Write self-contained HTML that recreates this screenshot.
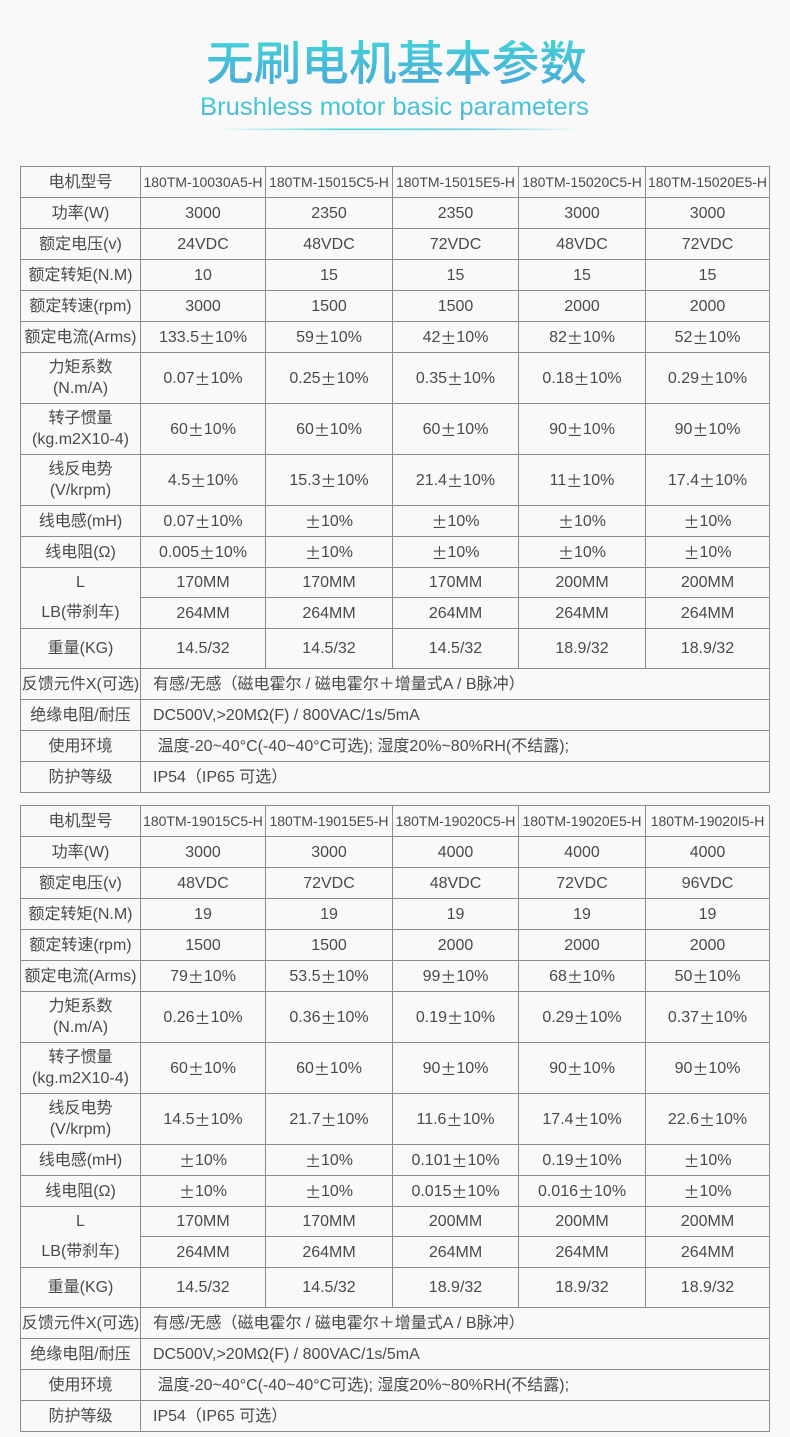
<!DOCTYPE html>
<html>
<head>
<meta charset="utf-8">
<style>
html,body{margin:0;padding:0;}
body{width:790px;height:1437px;background:#f9f9f9;position:relative;overflow:hidden;
font-family:"Liberation Sans","Noto Sans CJK SC",sans-serif;color:#4a4a4a;}
.t{position:absolute;left:20px;width:750px;height:627px;display:grid;box-sizing:border-box;
padding:1px;gap:1px;background:#8c8c8c;
grid-template-columns:119px 124px 126px 125px 126px 123px;
grid-template-rows:30px 30px 30px 30px 30px 30px 50px 50px 50px 30px 30px 29px 30px 39px 30px 30px 30px 30px;}
.t>div{background:#f9f9f9;display:flex;align-items:center;justify-content:center;text-align:center;
font-size:16px;white-space:nowrap;line-height:21px;}
.t>div.m{font-size:14px;}
.t>div.w{grid-column:2 / span 5;justify-content:flex-start;padding-left:12px;}
.t>div.s{grid-row:span 2;flex-direction:column;justify-content:flex-start;}
.t>div.s span{display:block;height:30px;line-height:30px;}
.c{font-family:"Noto Sans CJK SC",sans-serif;}
</style>
</head>
<body>
<svg width="790" height="160" style="position:absolute;left:0;top:0" xmlns="http://www.w3.org/2000/svg">
<defs>
<linearGradient id="g1" x1="0" y1="0" x2="0" y2="1">
<stop offset="0" stop-color="#42dcd8"/>
<stop offset="1" stop-color="#4aa4d8"/>
</linearGradient>
<linearGradient id="g2" x1="0" y1="0" x2="0" y2="1">
<stop offset="0" stop-color="#43d6d8"/>
<stop offset="1" stop-color="#4ab0d8"/>
</linearGradient>
<linearGradient id="g3" x1="0" y1="0" x2="1" y2="0">
<stop offset="0" stop-color="#4dd6d8" stop-opacity="0"/>
<stop offset="0.35" stop-color="#4dd6d8" stop-opacity="1"/>
<stop offset="0.7" stop-color="#4dc8d8" stop-opacity="0.8"/>
<stop offset="1" stop-color="#4dc8d8" stop-opacity="0"/>
</linearGradient>
</defs>
<text x="206" y="80" font-size="47" font-weight="500" fill="url(#g1)" textLength="381" lengthAdjust="spacingAndGlyphs" style="font-family:'Noto Sans CJK SC',sans-serif">无刷电机基本参数</text>
<text x="200" y="115" font-size="25" fill="url(#g2)" textLength="389" lengthAdjust="spacingAndGlyphs" style="font-family:'Liberation Sans','Noto Sans CJK SC',sans-serif">Brushless motor basic parameters</text>
<rect x="214" y="128.5" width="368" height="1.6" fill="url(#g3)"/>
</svg>

<div class="t" style="top:166px">
<div>电机型号</div><div class="m">180TM-10030A5-H</div><div class="m">180TM-15015C5-H</div><div class="m">180TM-15015E5-H</div><div class="m">180TM-15020C5-H</div><div class="m">180TM-15020E5-H</div>
<div>功率(W)</div><div>3000</div><div>2350</div><div>2350</div><div>3000</div><div>3000</div>
<div>额定电压(v)</div><div>24VDC</div><div>48VDC</div><div>72VDC</div><div>48VDC</div><div>72VDC</div>
<div>额定转矩(N.M)</div><div>10</div><div>15</div><div>15</div><div>15</div><div>15</div>
<div>额定转速(rpm)</div><div>3000</div><div>1500</div><div>1500</div><div>2000</div><div>2000</div>
<div>额定电流(Arms)</div><div>133.5<span class="c">±</span>10%</div><div>59<span class="c">±</span>10%</div><div>42<span class="c">±</span>10%</div><div>82<span class="c">±</span>10%</div><div>52<span class="c">±</span>10%</div>
<div>力矩系数<br>(N.m/A)</div><div>0.07<span class="c">±</span>10%</div><div>0.25<span class="c">±</span>10%</div><div>0.35<span class="c">±</span>10%</div><div>0.18<span class="c">±</span>10%</div><div>0.29<span class="c">±</span>10%</div>
<div>转子惯量<br>(kg.m2X10-4)</div><div>60<span class="c">±</span>10%</div><div>60<span class="c">±</span>10%</div><div>60<span class="c">±</span>10%</div><div>90<span class="c">±</span>10%</div><div>90<span class="c">±</span>10%</div>
<div>线反电势<br>(V/krpm)</div><div>4.5<span class="c">±</span>10%</div><div>15.3<span class="c">±</span>10%</div><div>21.4<span class="c">±</span>10%</div><div>11<span class="c">±</span>10%</div><div>17.4<span class="c">±</span>10%</div>
<div>线电感(mH)</div><div>0.07<span class="c">±</span>10%</div><div><span class="c">±</span>10%</div><div><span class="c">±</span>10%</div><div><span class="c">±</span>10%</div><div><span class="c">±</span>10%</div>
<div>线电阻(Ω)</div><div>0.005<span class="c">±</span>10%</div><div><span class="c">±</span>10%</div><div><span class="c">±</span>10%</div><div><span class="c">±</span>10%</div><div><span class="c">±</span>10%</div>
<div class="s"><span>L</span><span>LB(带刹车)</span></div><div>170MM</div><div>170MM</div><div>170MM</div><div>200MM</div><div>200MM</div>
<div>264MM</div><div>264MM</div><div>264MM</div><div>264MM</div><div>264MM</div>
<div>重量(KG)</div><div>14.5/32</div><div>14.5/32</div><div>14.5/32</div><div>18.9/32</div><div>18.9/32</div>
<div>反馈元件X(可选)</div><div class="w">有感/无感（磁电霍尔 / 磁电霍尔＋增量式A / B脉冲）</div>
<div>绝缘电阻/耐压</div><div class="w">DC500V,&gt;20MΩ(F) / 800VAC/1s/5mA</div>
<div>使用环境</div><div class="w">&nbsp;温度-20~40°C(-40~40°C可选); 湿度20%~80%RH(不结露);</div>
<div>防护等级</div><div class="w">IP54（IP65 可选）</div>
</div>

<div class="t" style="top:805px">
<div>电机型号</div><div class="m">180TM-19015C5-H</div><div class="m">180TM-19015E5-H</div><div class="m">180TM-19020C5-H</div><div class="m">180TM-19020E5-H</div><div class="m">180TM-19020I5-H</div>
<div>功率(W)</div><div>3000</div><div>3000</div><div>4000</div><div>4000</div><div>4000</div>
<div>额定电压(v)</div><div>48VDC</div><div>72VDC</div><div>48VDC</div><div>72VDC</div><div>96VDC</div>
<div>额定转矩(N.M)</div><div>19</div><div>19</div><div>19</div><div>19</div><div>19</div>
<div>额定转速(rpm)</div><div>1500</div><div>1500</div><div>2000</div><div>2000</div><div>2000</div>
<div>额定电流(Arms)</div><div>79<span class="c">±</span>10%</div><div>53.5<span class="c">±</span>10%</div><div>99<span class="c">±</span>10%</div><div>68<span class="c">±</span>10%</div><div>50<span class="c">±</span>10%</div>
<div>力矩系数<br>(N.m/A)</div><div>0.26<span class="c">±</span>10%</div><div>0.36<span class="c">±</span>10%</div><div>0.19<span class="c">±</span>10%</div><div>0.29<span class="c">±</span>10%</div><div>0.37<span class="c">±</span>10%</div>
<div>转子惯量<br>(kg.m2X10-4)</div><div>60<span class="c">±</span>10%</div><div>60<span class="c">±</span>10%</div><div>90<span class="c">±</span>10%</div><div>90<span class="c">±</span>10%</div><div>90<span class="c">±</span>10%</div>
<div>线反电势<br>(V/krpm)</div><div>14.5<span class="c">±</span>10%</div><div>21.7<span class="c">±</span>10%</div><div>11.6<span class="c">±</span>10%</div><div>17.4<span class="c">±</span>10%</div><div>22.6<span class="c">±</span>10%</div>
<div>线电感(mH)</div><div><span class="c">±</span>10%</div><div><span class="c">±</span>10%</div><div>0.101<span class="c">±</span>10%</div><div>0.19<span class="c">±</span>10%</div><div><span class="c">±</span>10%</div>
<div>线电阻(Ω)</div><div><span class="c">±</span>10%</div><div><span class="c">±</span>10%</div><div>0.015<span class="c">±</span>10%</div><div>0.016<span class="c">±</span>10%</div><div><span class="c">±</span>10%</div>
<div class="s"><span>L</span><span>LB(带刹车)</span></div><div>170MM</div><div>170MM</div><div>200MM</div><div>200MM</div><div>200MM</div>
<div>264MM</div><div>264MM</div><div>264MM</div><div>264MM</div><div>264MM</div>
<div>重量(KG)</div><div>14.5/32</div><div>14.5/32</div><div>18.9/32</div><div>18.9/32</div><div>18.9/32</div>
<div>反馈元件X(可选)</div><div class="w">有感/无感（磁电霍尔 / 磁电霍尔＋增量式A / B脉冲）</div>
<div>绝缘电阻/耐压</div><div class="w">DC500V,&gt;20MΩ(F) / 800VAC/1s/5mA</div>
<div>使用环境</div><div class="w">&nbsp;温度-20~40°C(-40~40°C可选); 湿度20%~80%RH(不结露);</div>
<div>防护等级</div><div class="w">IP54（IP65 可选）</div>
</div>
</body>
</html>
